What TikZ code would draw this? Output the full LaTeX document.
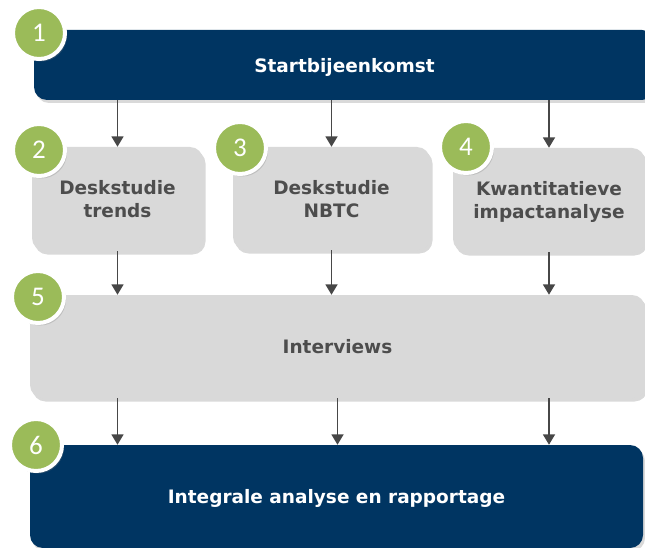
\documentclass[tikz,border=0pt]{standalone}
\usepackage{fontspec}
\setmainfont{DejaVu Sans}
\newfontfamily\numfont{Carlito}
\usetikzlibrary{arrows.meta,shadows}
\definecolor{navy}{HTML}{003562}
\definecolor{boxgray}{HTML}{D9D9D9}
\definecolor{txtgray}{HTML}{4D4D4D}
\definecolor{numgreen}{HTML}{9BBB59}
\definecolor{arrgray}{HTML}{474747}
\begin{document}
\begin{tikzpicture}[x=1pt,y=-1pt,
  boxfont/.style={font=\bfseries\fontsize{18.5}{23}\selectfont, text depth=0pt},
  navybox/.style={rectangle, rounded corners=13pt, fill=navy, text=white, boxfont,
    drop shadow={shadow xshift=2pt,shadow yshift=-3pt,opacity=0.3}},
  graybox/.style={rectangle, rounded corners=13pt, fill=boxgray, text=txtgray, align=center, boxfont,
    drop shadow={shadow xshift=2.5pt,shadow yshift=-3.5pt,opacity=0.3}},
  num/.style={circle, fill=numgreen, draw=white, line width=4pt, minimum size=52pt, inner sep=0pt,
    text=white, font=\numfont\fontsize{27}{27}\selectfont,
    drop shadow={shadow xshift=2pt,shadow yshift=-2.5pt,opacity=0.3}},
  arr/.style={draw=arrgray, line width=1.8pt, -{Triangle[width=12pt,length=10.5pt]}}]
\useasboundingbox (0,0) rectangle (645,548);
\clip (0,0) rectangle (645,548);

% boxes
\node[navybox, minimum width=621pt, minimum height=70pt] (start) at (344.5,65) {Startbijeenkomst};
\node[graybox, minimum width=171pt, minimum height=104pt] (ds) at (117.5,199) {Deskstudie\\trends};
\node[graybox, minimum width=197pt, minimum height=103pt] (nbtc) at (331.5,198.5) {Deskstudie\\NBTC};
\node[graybox, minimum width=192pt, minimum height=104pt] (kia) at (549,200) {Kwantitatieve\\impactanalyse};
\node[graybox, minimum width=615pt, minimum height=103pt] (iv) at (337.5,346.5) {Interviews};
\node[navybox, minimum width=613pt, minimum height=103pt] (fin) at (336.5,496.5) {Integrale analyse en rapportage};

% arrows
\draw[arr] (ds.north |- start.south) -- (ds.north);
\draw[arr] (nbtc.north |- start.south) -- (nbtc.north);
\draw[arr] (kia.north |- start.south) -- (kia.north);
\draw[arr] (ds.south) -- (ds.south |- iv.north);
\draw[arr] (nbtc.south) -- (nbtc.south |- iv.north);
\draw[arr] (kia.south) -- (kia.south |- iv.north);
\draw[arr] (ds.south |- iv.south) -- (ds.south |- fin.north);
\draw[arr] (iv.south) -- (iv.south |- fin.north);
\draw[arr] (kia.south |- iv.south) -- (kia.south |- fin.north);

% numbers
\node[num] (n1) at (39,33) {1};
\node[num] (n2) at (39,150) {2};
\node[num] (n3) at (240,148) {3};
\node[num] (n4) at (466,147) {4};
\node[num] (n5) at (38,297) {5};
\node[num] (n6) at (36,445) {6};
\end{tikzpicture}
\end{document}
